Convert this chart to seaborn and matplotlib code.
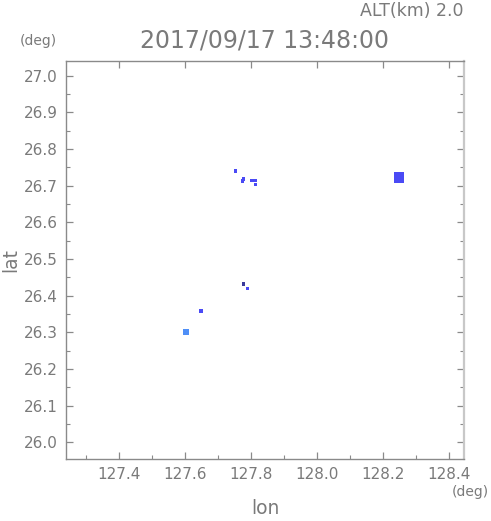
"""Radar echo map at one altitude level"""

import matplotlib
matplotlib.use("Agg")
import matplotlib.pyplot as plt
from matplotlib.ticker import MultipleLocator
import seaborn as sns
import pandas as pd

# echo pixels
lon = [127.754, 127.777, 127.774, 127.803, 127.813, 127.815,
       128.248, 127.777, 127.789, 127.649, 127.603]
lat = [26.740, 26.718, 26.713, 26.714, 26.715, 26.704,
       26.723, 26.432, 26.419, 26.359, 26.301]
npix = [1, 2, 1, 1, 1, 1, 40, 1, 1, 2, 14]
level = ["mid", "mid", "mid", "mid", "mid", "mid",
         "mid", "high", "mid", "mid", "low"]

title = "2017/09/17 13:48:00"
alt_text = "ALT(km) 2.0"
xticks = [127.4, 127.6, 127.8, 128.0, 128.2, 128.4]
yticks = [26.0, 26.1, 26.2, 26.3, 26.4, 26.5, 26.6, 26.7, 26.8, 26.9, 27.0]

df = pd.DataFrame({"lon": lon, "lat": lat, "npix": npix, "level": level})

sns.set_style("white")
plt.rcParams["font.family"] = ["DejaVu Sans"]
grey = "#8a8a8a"
text_grey = "#7a7a7a"

fig = plt.figure(figsize=(4.91, 5.21), dpi=100)
ax = fig.add_axes([66 / 491, 1 - 459 / 521, 398 / 491, 398 / 521])

palette = {"low": "#4f8ff7", "mid": "#4a4af5", "high": "#3a3a9a"}
sns.scatterplot(data=df, x="lon", y="lat", hue="level", size="npix",
                sizes=(5, 60), palette=palette, marker="s",
                linewidth=0, legend=False, ax=ax)

ax.set_xlim(127.24, 128.445)
ax.set_ylim(25.955, 27.04)
ax.set_xticks(xticks)
ax.set_yticks(yticks)
ax.xaxis.set_minor_locator(MultipleLocator(0.1))
ax.yaxis.set_minor_locator(MultipleLocator(0.05))
ax.set_xticklabels([f"{v:.1f}" for v in xticks])
ax.set_yticklabels([f"{v:.1f}" for v in yticks])

for s in ax.spines.values():
    s.set_color(grey)
    s.set_linewidth(1.0)
ax.spines["right"].set_color("#c8c8c8")
ax.spines["right"].set_linewidth(1.6)

ax.tick_params(which="both", direction="in", colors=grey, labelcolor=text_grey,
               labelsize=11, top=True, right=True, bottom=True, left=True)
ax.tick_params(which="major", length=5, width=0.9, pad=6)
ax.tick_params(which="minor", length=3, width=0.8)
ax.tick_params(axis="x", which="minor", top=False)

ax.set_xlabel("lon", fontsize=13.5, color=text_grey, va="center")
ax.set_ylabel("lat", fontsize=13.5, color=text_grey, va="center")
ax.xaxis.set_label_coords(0.5, (459 - 509) / 398)
ax.yaxis.set_label_coords((11 - 66) / 398, 0.5)

fig.text(0.5 * (66 + 464) / 491, 1 - 40 / 521, title, ha="center", va="center",
         fontsize=17, color=text_grey)
fig.text(463 / 491, 1 - 11 / 521, alt_text, ha="right", va="center",
         fontsize=12.5, color=text_grey)
fig.text(20 / 491, 1 - 41 / 521, "(deg)", ha="left", va="center",
         fontsize=10, color=text_grey)
fig.text(489 / 491, 1 - 492 / 521, "(deg)", ha="right", va="center",
         fontsize=10, color=text_grey)

fig.savefig("out.png", dpi=100)
